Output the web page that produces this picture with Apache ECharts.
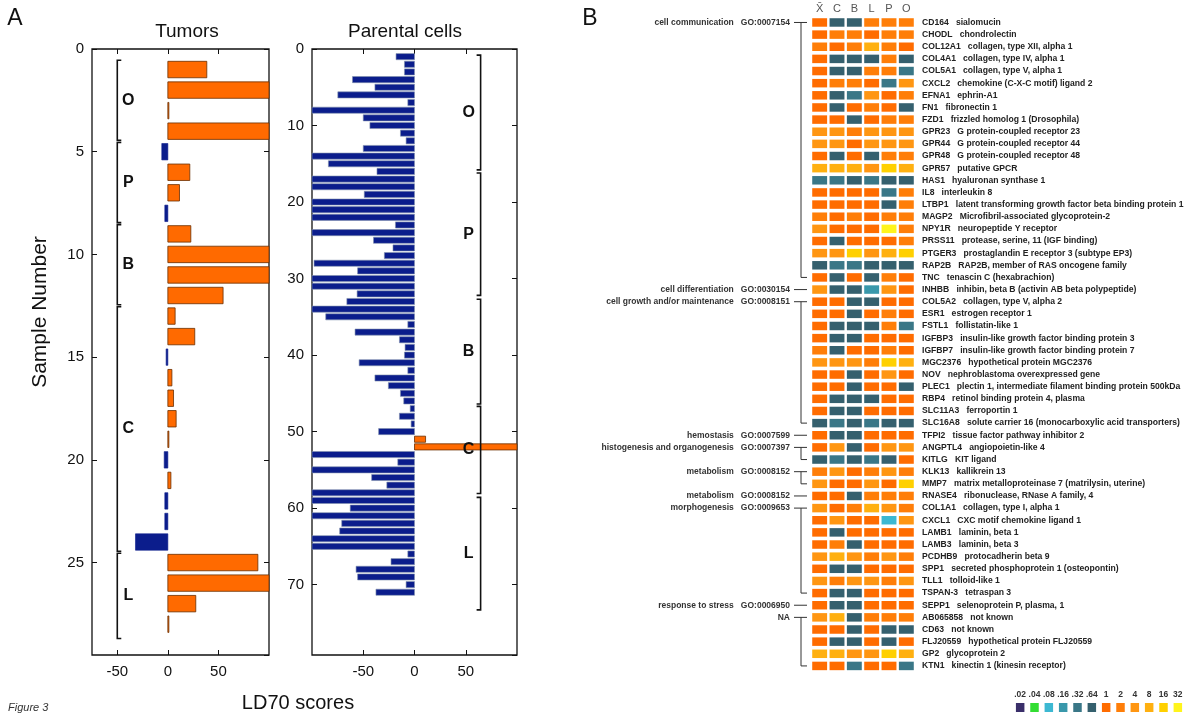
<!DOCTYPE html>
<html>
<head>
<meta charset="utf-8">
<script src="https://cdn.jsdelivr.net/npm/echarts@6/dist/echarts.min.js"></script>
<style>
  html, body { margin: 0; padding: 0; background: #fff; }
  #main { width: 1200px; height: 719px; }
</style>
</head>
<body>
<div id="main"></div>
<script>
// ---- panel A data: LD70 scores per sample ----
var tumorScores = [38.5, 120, 1, 120, -6, 21.7, 11.5, -3, 22.7, 120, 120, 54.6, 7.2, 26.6,
  -1.7, 4, 5.6, 8.2, 1, -3.6, 3, -3, -3, -32, 89, 120, 27.6, 1];
var parentalScores = [-18, -9.8, -9.8, -60.5, -38.6, -74.8, -6.5, -100, -50, -43.5, -13.7, -8.2,
  -50, -100, -84, -36.6, -100, -100, -49, -100, -100, -100, -18.6, -100, -40, -21, -29.4, -98,
  -55.5, -100, -100, -56, -66, -100, -86.6, -6.5, -58, -14.7, -9.2, -9.8, -54, -6.5, -38.6,
  -25.5, -13.7, -10.5, -4.2, -14.7, -3.3, -35, 10.8, 120, -100, -16.3, -100, -41.8, -27, -100,
  -100, -62.7, -100, -71, -73, -100, -100, -6.5, -22.9, -57, -55.5, -8.2, -37.6];
var groupNames = ['O', 'P', 'B', 'C', 'L'];
var tumorGroupStart = [0.55, 4.55, 8.55, 12.55, 24.55];
var tumorGroupEnd = [4.45, 8.45, 12.45, 24.45, 28.7];
var parentalGroupStart = [0.8, 16.2, 32.7, 46.7, 58.6];
var parentalGroupEnd = [15.8, 32.2, 46.4, 58.1, 73.3];
var scoreTicks = [-50, 0, 50];

// ---- panel B data: fold change per gene and cell line ----
var heatColumns = ['X\u0304', 'C', 'B', 'L', 'P', 'O'];
var geneSymbols = ['CD164', 'CHODL', 'COL12A1', 'COL4A1', 'COL5A1', 'CXCL2', 'EFNA1', 'FN1', 'FZD1',
  'GPR23', 'GPR44', 'GPR48', 'GPR57', 'HAS1', 'IL8', 'LTBP1', 'MAGP2', 'NPY1R', 'PRSS11', 'PTGER3',
  'RAP2B', 'TNC', 'INHBB', 'COL5A2', 'ESR1', 'FSTL1', 'IGFBP3', 'IGFBP7', 'MGC2376', 'NOV', 'PLEC1',
  'RBP4', 'SLC11A3', 'SLC16A8', 'TFPI2', 'ANGPTL4', 'KITLG', 'KLK13', 'MMP7', 'RNASE4', 'COL1A1',
  'CXCL1', 'LAMB1', 'LAMB3', 'PCDHB9', 'SPP1', 'TLL1', 'TSPAN-3', 'SEPP1', 'AB065858', 'CD63',
  'FLJ20559', 'GP2', 'KTN1'];
var geneNames = ['sialomucin', 'chondrolectin', 'collagen, type XII, alpha 1', 'collagen, type IV, alpha 1',
  'collagen, type V, alpha 1', 'chemokine (C-X-C motif) ligand 2', 'ephrin-A1', 'fibronectin 1',
  'frizzled homolog 1 (Drosophila)', 'G protein-coupled receptor 23', 'G protein-coupled receptor 44',
  'G protein-coupled receptor 48', 'putative GPCR', 'hyaluronan synthase 1', 'interleukin 8',
  'latent transforming growth factor beta binding protein 1', 'Microfibril-associated glycoprotein-2',
  'neuropeptide Y receptor', 'protease, serine, 11 (IGF binding)', 'prostaglandin E receptor 3 (subtype EP3)',
  'RAP2B, member of RAS oncogene family', 'tenascin C (hexabrachion)',
  'inhibin, beta B (activin AB beta polypeptide)', 'collagen, type V, alpha 2', 'estrogen receptor 1',
  'follistatin-like 1', 'insulin-like growth factor binding protein 3',
  'insulin-like growth factor binding protein 7', 'hypothetical protein MGC2376',
  'nephroblastoma overexpressed gene', 'plectin 1, intermediate filament binding protein 500kDa',
  'retinol binding protein 4, plasma', 'ferroportin 1',
  'solute carrier 16 (monocarboxylic acid transporters)', 'tissue factor pathway inhibitor 2',
  'angiopoietin-like 4', 'KIT ligand', 'kallikrein 13', 'matrix metalloproteinase 7 (matrilysin, uterine)',
  'ribonuclease, RNase A family, 4', 'collagen, type I, alpha 1', 'CXC motif chemokine ligand 1',
  'laminin, beta 1', 'laminin, beta 3', 'protocadherin beta 9', 'secreted phosphoprotein 1 (osteopontin)',
  'tolloid-like 1', 'tetraspan 3', 'selenoprotein P, plasma, 1', 'not known', 'not known',
  'hypothetical protein FLJ20559', 'glycoprotein 2', 'kinectin 1 (kinesin receptor)'];
var foldChange = [
  [1, .64, .64, 2, 2, 2], [1, 2, 2, 1, 2, 2], [2, 1, 2, 8, 2, 1], [1, .64, .64, .64, 2, .64],
  [1, .64, .64, 2, 2, .32], [1, 2, 2, 1, .32, 4], [1, .64, .32, 4, 1, 2], [1, .64, 1, 2, 1, .64],
  [1, 1, .64, 1, 2, 2], [4, 4, 2, 4, 4, 4], [4, 4, 1, 4, 4, 4], [1, .64, 1, .64, 2, 2],
  [8, 8, 8, 4, 16, 8], [.32, .32, .64, .32, .64, .64], [1, 1, 1, 1, .32, 2], [1, 1, 1, 1, .64, 2],
  [2, 1, 2, 1, 2, 2], [4, 1, 1, 1, 32, 2], [1, .64, 1, 1, 1, 2], [4, 4, 16, 4, 8, 16],
  [.64, .32, .32, .64, .64, .64], [1, .64, 1, .64, 2, 1], [4, .64, .64, .16, 4, 1],
  [1, 1, .64, .64, 1, 1], [1, 1, .64, 1, 2, 1], [1, .64, .64, .64, 2, .32], [1, .64, .64, 1, 1, 1],
  [2, .64, 1, 1, 2, 1], [4, 4, 4, 2, 16, 8], [1, 1, .64, 1, 4, 1], [1, 1, .64, 1, 1, .64],
  [1, .64, .64, .64, 1, 1], [1, .64, .64, 1, 1, 1], [.64, .32, .64, .32, .64, .64],
  [1, .64, .64, 1, 1, 1], [1, 4, .64, 1, 4, 4], [.64, .32, .64, .32, .64, 1], [2, 4, 1, 2, 4, 2],
  [4, 1, 1, 4, 1, 16], [1, 1, .64, 2, 2, 2], [4, 1, 2, 8, 4, 2], [1, 4, 1, 1, .08, 4],
  [1, .64, 1, 1, 1, 1], [1, 2, .64, 1, 1, 1], [4, 8, 4, 2, 4, 2], [1, .64, .64, 1, 1, 1],
  [4, 2, 4, 4, 2, 4], [1, .64, .64, 1, 1, 1], [1, .64, .64, 1, 1, 1], [4, 8, .64, 2, 2, 2],
  [1, 1, .64, 1, .64, .64], [1, .64, .64, 1, .64, 1], [8, 8, 4, 4, 16, 8], [1, 1, .32, 1, 1, .32]
];
var goNames = ['cell communication', 'cell differentiation', 'cell growth and/or maintenance', 'hemostasis',
  'histogenesis and organogenesis', 'metabolism', 'metabolism', 'morphogenesis', 'response to stress', 'NA'];
var goIds = ['GO:0007154', 'GO:0030154', 'GO:0008151', 'GO:0007599', 'GO:0007397', 'GO:0008152',
  'GO:0008152', 'GO:0009653', 'GO:0006950', ''];
var goFirst = [0, 22, 23, 34, 35, 37, 39, 40, 48, 49];
var goLast = [21, 22, 33, 34, 36, 38, 39, 47, 48, 53];
var legendLabels = ['.02', '.04', '.08', '.16', '.32', '.64', '1', '2', '4', '8', '16', '32'];
var legendValues = [0.02, 0.04, 0.08, 0.16, 0.32, 0.64, 1, 2, 4, 8, 16, 32];
var legendColors = ['#3a2f6a', '#33dd33', '#3cb8d2', '#3998ab', '#3a7787', '#35606e',
  '#ff6c00', '#ff7e08', '#ff9612', '#ffb010', '#ffd000', '#fff41c'];

var ORANGE = '#ff6a00', NAVY = '#0b1d8c', INK = '#111';
var FONT = '"Liberation Sans", Arial, sans-serif';

function barRenderer(xmin, xmax, negStroke) {
  return function (params, api) {
    var v = api.value(0), y = api.value(1);
    var vc = Math.max(xmin, Math.min(xmax, v));
    var p0 = api.coord([0, y]), p1 = api.coord([vc, y]);
    var h = api.size([0, 1])[1] * 0.8;
    var neg = v < 0;
    return {
      type: 'rect',
      shape: { x: Math.min(p0[0], p1[0]), y: p0[1] - h / 2, width: Math.abs(p1[0] - p0[0]), height: h },
      style: {
        fill: neg ? NAVY : ORANGE,
        stroke: neg ? negStroke : '#6a2e00',
        lineWidth: neg ? 0.6 : 0.8
      }
    };
  };
}

function bracketRenderer(bx, serif, labelDx) {
  return function (params, api) {
    var top = api.coord([bx, api.value(1)]), bot = api.coord([bx, api.value(2)]);
    var x = top[0];
    var pts = [[x + serif, top[1]], [x, top[1]], [x, bot[1]], [x + serif, bot[1]]];
    return {
      type: 'group',
      children: [
        { type: 'polyline', shape: { points: pts }, style: { stroke: INK, lineWidth: 1.6, fill: null } },
        { type: 'text', x: x + labelDx, y: (top[1] + bot[1]) / 2,
          style: { text: groupNames[params.dataIndex], font: 'bold 16px ' + FONT, fill: INK,
            align: 'center', verticalAlign: 'middle' } }
      ]
    };
  };
}

function scoreAxes(gridIndex, min, max) {
  return [
    { type: 'value', gridIndex: gridIndex, min: min, max: max, position: 'bottom',
      axisLine: { show: false, onZero: false }, splitLine: { show: false },
      axisTick: { inside: true, length: 5, customValues: scoreTicks, lineStyle: { color: INK } },
      axisLabel: { customValues: scoreTicks, fontSize: 15, color: INK, fontFamily: FONT, margin: 9 } },
    { type: 'value', gridIndex: gridIndex, min: min, max: max, position: 'top',
      axisLine: { show: false, onZero: false }, splitLine: { show: false }, axisLabel: { show: false },
      axisTick: { inside: true, length: 5, customValues: scoreTicks, lineStyle: { color: INK } } }
  ];
}

function sampleAxes(gridIndex, max, interval) {
  return [
    { type: 'value', gridIndex: gridIndex, min: 0, max: max, interval: interval, inverse: true, position: 'left',
      axisLine: { show: false, onZero: false }, splitLine: { show: false },
      axisTick: { inside: true, length: 5, lineStyle: { color: INK } },
      axisLabel: { fontSize: 15, color: INK, fontFamily: FONT, margin: 8, showMaxLabel: false } },
    { type: 'value', gridIndex: gridIndex, min: 0, max: max, interval: interval, inverse: true, position: 'right',
      axisLine: { show: false, onZero: false }, splitLine: { show: false }, axisLabel: { show: false },
      axisTick: { inside: true, length: 5, lineStyle: { color: INK } } }
  ];
}

var tumorData = tumorScores.map(function (v, i) { return [v, i + 1]; });
var parentalData = parentalScores.map(function (v, i) { return [v, i + 1]; });
var tumorBrackets = tumorGroupStart.map(function (s, i) { return [0, s, tumorGroupEnd[i]]; });
var parentalBrackets = parentalGroupStart.map(function (s, i) { return [0, s, parentalGroupEnd[i]]; });
var heatData = [];
foldChange.forEach(function (row, r) {
  row.forEach(function (v, c) { heatData.push([c, r, v]); });
});
var goData = goFirst.map(function (f, i) { return [0, f, goLast[i]]; });
var legendData = legendValues.map(function (v, i) { return [i, 0, v]; });

var chart = echarts.init(document.getElementById('main'), null, { renderer: 'canvas' });
chart.setOption({
  animation: false,
  backgroundColor: '#fff',
  grid: [
    { left: 92, top: 49, width: 177, height: 606, show: true, borderColor: INK, borderWidth: 1.3, containLabel: false },
    { left: 312, top: 49, width: 205, height: 606, show: true, borderColor: INK, borderWidth: 1.3, containLabel: false },
    { left: 811, top: 16.4, width: 104, height: 655.6, containLabel: false },
    { left: 1013, top: 703, width: 172, height: 9, containLabel: false }
  ],
  xAxis: scoreAxes(0, -75, 100).concat(scoreAxes(1, -100, 100)).concat([
    { type: 'category', gridIndex: 2, data: heatColumns, position: 'top',
      axisLine: { show: false }, axisTick: { show: false },
      axisLabel: { fontSize: 11, color: '#555', fontFamily: FONT, margin: 2 } },
    { type: 'category', gridIndex: 3, data: legendLabels, position: 'top',
      axisLine: { show: false }, axisTick: { show: false },
      axisLabel: { fontSize: 8.5, fontWeight: 'bold', color: '#333', fontFamily: FONT, margin: 4, interval: 0 } }
  ]),
  yAxis: sampleAxes(0, 29.5, 5).concat(sampleAxes(1, 79.2, 10)).concat([
    { type: 'category', gridIndex: 2, data: geneSymbols, inverse: true, position: 'right',
      axisLine: { show: false, onZero: false }, axisTick: { show: false },
      axisLabel: { interval: 0, margin: 7, fontSize: 8.6, fontWeight: 'bold', color: '#222', fontFamily: FONT,
        formatter: function (v, i) { return v + '   ' + geneNames[i]; } } },
    { type: 'category', gridIndex: 3, data: ['k'], show: false }
  ]),
  visualMap: {
    type: 'piecewise', show: false, dimension: 2, seriesIndex: [4, 6],
    pieces: legendValues.map(function (v, i) { return { value: v, color: legendColors[i] }; })
  },
  series: [
    { type: 'custom', xAxisIndex: 0, yAxisIndex: 0, data: tumorData, encode: { x: 0, y: 1 },
      renderItem: barRenderer(-75, 100, NAVY), z: 2 },
    { type: 'custom', xAxisIndex: 0, yAxisIndex: 0, data: tumorBrackets, encode: { x: 0, y: [1, 2] },
      renderItem: bracketRenderer(-50, 4, 11), z: 3 },
    { type: 'custom', xAxisIndex: 2, yAxisIndex: 2, data: parentalData, encode: { x: 0, y: 1 },
      renderItem: barRenderer(-100, 100, '#8190ad'), z: 2 },
    { type: 'custom', xAxisIndex: 2, yAxisIndex: 2, data: parentalBrackets, encode: { x: 0, y: [1, 2] },
      renderItem: bracketRenderer(64.5, -4, -12), z: 3 },
    { type: 'custom', xAxisIndex: 4, yAxisIndex: 4, data: heatData, encode: { x: 0, y: 1 },
      renderItem: function (params, api) {
        var c = api.coord([api.value(0), api.value(1)]);
        var w = api.size([1, 0])[0] * 0.86, h = api.size([0, 1])[1] * 0.7;
        return { type: 'rect', shape: { x: c[0] - w / 2, y: c[1] - h / 2, width: w, height: h },
          style: { fill: api.visual('color') } };
      } },
    { type: 'custom', xAxisIndex: 4, yAxisIndex: 4, data: goData, encode: { x: 0, y: [1, 2] },
      renderItem: function (params, api) {
        var top = api.coord([0, api.value(1)]), bot = api.coord([0, api.value(2)]);
        var left = top[0] - api.size([1, 0])[0] / 2;
        var i = params.dataIndex;
        var vx = left - 10;
        var kids = [
          { type: 'text', x: left - 21, y: top[1],
            style: { text: goNames[i] + (goIds[i] ? '   ' + goIds[i] : ''), font: 'bold 8.5px ' + FONT,
              fill: '#333', align: 'right', verticalAlign: 'middle' } },
          { type: 'line', shape: { x1: left - 17, y1: top[1], x2: left - 4, y2: top[1] },
            style: { stroke: '#333', lineWidth: 1 } }
        ];
        if (api.value(2) > api.value(1)) {
          kids.push({ type: 'polyline', shape: { points: [[vx, top[1]], [vx, bot[1]], [left - 4, bot[1]]] },
            style: { stroke: '#333', lineWidth: 1, fill: null } });
        }
        return { type: 'group', children: kids };
      } },
    { type: 'custom', xAxisIndex: 5, yAxisIndex: 5, data: legendData, encode: { x: 0, y: 1 },
      renderItem: function (params, api) {
        var c = api.coord([api.value(0), 0]);
        var w = 8.5, h = api.size([0, 1])[1];
        return { type: 'rect', shape: { x: c[0] - w / 2, y: c[1] - h / 2, width: w, height: h },
          style: { fill: api.visual('color') } };
      } }
  ],
  graphic: [
    { type: 'text', x: 15, y: 19, style: { text: 'A', font: '23px ' + FONT, fill: INK, align: 'center', verticalAlign: 'middle' } },
    { type: 'text', x: 590, y: 19, style: { text: 'B', font: '23px ' + FONT, fill: INK, align: 'center', verticalAlign: 'middle' } },
    { type: 'text', x: 187, y: 32, style: { text: 'Tumors', font: '19px ' + FONT, fill: INK, align: 'center', verticalAlign: 'middle' } },
    { type: 'text', x: 405, y: 32, style: { text: 'Parental cells', font: '19px ' + FONT, fill: INK, align: 'center', verticalAlign: 'middle' } },
    { type: 'text', x: 40, y: 312, rotation: Math.PI / 2,
      style: { text: 'Sample Number', font: '21px ' + FONT, fill: INK, align: 'center', verticalAlign: 'middle' } },
    { type: 'text', x: 298, y: 703, style: { text: 'LD70 scores', font: '20px ' + FONT, fill: INK, align: 'center', verticalAlign: 'middle' } },
    { type: 'text', x: 8, y: 708, style: { text: 'Figure 3', font: 'italic 11px ' + FONT, fill: '#333', align: 'left', verticalAlign: 'middle' } }
  ]
});
window.addEventListener('resize', function () { chart.resize(); });
</script>
</body>
</html>
